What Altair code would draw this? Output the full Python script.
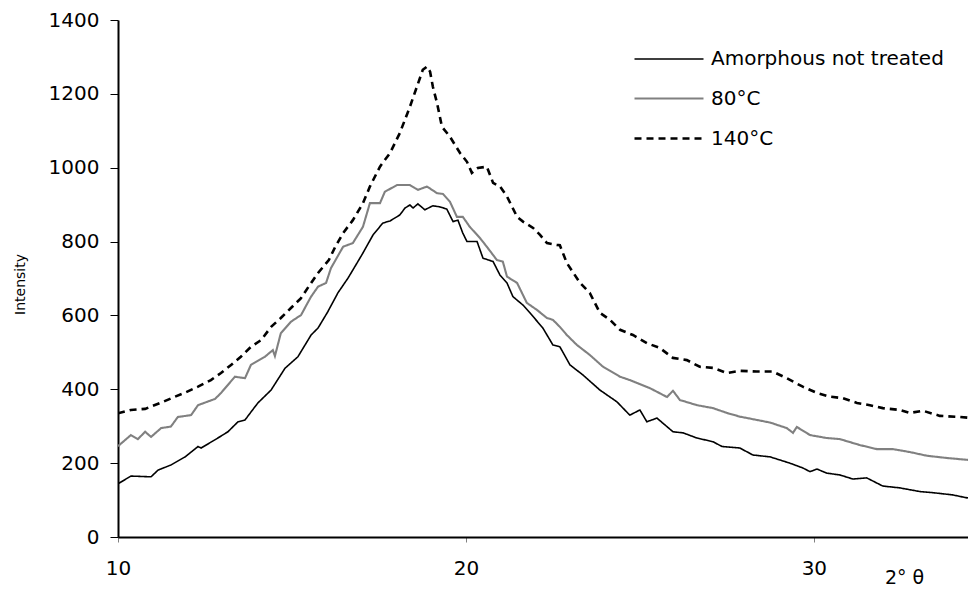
import altair as alt
import pandas as pd

series_names = ["Amorphous not treated", "80°C", "140°C"]

amorph_x = [10.00, 10.37, 10.95, 11.15, 11.52, 11.93, 12.30, 12.39, 12.87, 13.16, 13.45, 13.65,
            14.02, 14.40, 14.80, 15.17, 15.55, 15.75, 16.03, 16.32, 16.61, 16.75, 17.04, 17.33,
            17.61, 17.82, 18.10, 18.25, 18.39, 18.48, 18.62, 18.82, 19.05, 19.25, 19.45, 19.63,
            19.77, 19.91, 20.03, 20.32, 20.49, 20.78, 20.98, 21.18, 21.35, 21.64, 21.84, 22.21,
            22.50, 22.70, 22.99, 23.36, 23.85, 24.34, 24.71, 25.00, 25.20, 25.49, 25.95, 26.24,
            26.64, 27.10, 27.36, 27.87, 28.25, 28.74, 29.31, 29.68, 29.89, 30.09, 30.37, 30.75,
            31.12, 31.52, 31.98, 32.47, 33.05, 33.42, 33.99, 34.40, 34.66]
amorph_y = [144, 165, 163, 181, 195, 217, 245, 241, 268, 285, 312, 317,
            363, 398, 457, 488, 547, 566, 610, 661, 701, 723, 769, 818,
            850, 856, 872, 891, 899, 891, 902, 886, 897, 894, 888, 854,
            858, 823, 800, 800, 755, 746, 709, 688, 651, 628, 607, 566,
            520, 515, 466, 439, 398, 366, 330, 344, 312, 322, 285, 282,
            268, 258, 245, 241, 222, 217, 200, 187, 177, 184, 173, 168,
            157, 160, 138, 133, 123, 120, 114, 106, 109]

c80_x = [10.00, 10.37, 10.57, 10.78, 10.95, 11.24, 11.52, 11.72, 12.10, 12.30, 12.79, 12.96,
         13.36, 13.65, 13.82, 14.22, 14.45, 14.51, 14.68, 14.97, 15.26, 15.55, 15.75, 15.98,
         16.12, 16.47, 16.75, 17.04, 17.24, 17.53, 17.67, 18.02, 18.39, 18.62, 18.88, 19.17,
         19.34, 19.54, 19.74, 19.91, 20.11, 20.40, 20.60, 20.89, 21.06, 21.18, 21.47, 21.75,
         22.04, 22.33, 22.50, 22.70, 22.90, 23.19, 23.56, 23.94, 24.43, 24.71, 25.29, 25.78,
         25.95, 26.15, 26.64, 27.10, 27.50, 27.87, 28.36, 28.74, 29.22, 29.40, 29.51, 29.89,
         30.37, 30.75, 31.32, 31.81, 32.27, 32.76, 33.25, 33.82, 34.40, 34.66]
c80_y = [246, 276, 265, 285, 271, 295, 299, 325, 330, 357, 374, 390,
         434, 430, 466, 488, 506, 490, 552, 583, 601, 651, 678, 688,
         728, 786, 796, 840, 904, 904, 935, 953, 953, 940, 949, 931,
         929, 908, 867, 867, 840, 810, 786, 750, 746, 705, 688, 634,
         615, 593, 588, 569, 547, 520, 493, 461, 434, 425, 403, 379,
         396, 371, 357, 349, 336, 326, 317, 310, 295, 282, 298, 276,
         268, 265, 249, 238, 238, 230, 220, 214, 209, 207]

c140_x = [10.00, 10.37, 10.78, 11.24, 11.64, 11.93, 12.30, 12.67, 12.96, 13.25, 13.53, 13.82,
          14.11, 14.40, 14.68, 14.97, 15.26, 15.55, 15.75, 16.06, 16.24, 16.47, 16.75, 17.04,
          17.24, 17.53, 17.82, 18.10, 18.39, 18.59, 18.76, 18.88, 18.97, 19.05, 19.17, 19.31,
          19.54, 19.83, 20.03, 20.17, 20.34, 20.60, 20.78, 20.98, 21.18, 21.47, 21.64, 21.93,
          22.13, 22.33, 22.61, 22.70, 22.90, 23.28, 23.56, 23.85, 24.14, 24.43, 24.80, 25.20,
          25.57, 25.95, 26.35, 26.72, 27.10, 27.50, 27.87, 28.36, 28.82, 29.22, 29.68, 30.09,
          30.46, 30.83, 31.24, 31.61, 31.98, 32.47, 32.76, 33.13, 33.62, 34.20, 34.66]
c140_y = [335, 344, 347, 364, 380, 391, 407, 425, 444, 466, 488, 515,
          533, 569, 593, 620, 647, 688, 715, 750, 785, 823, 858, 904,
          949, 1003, 1040, 1094, 1165, 1219, 1265, 1274, 1260, 1219, 1175, 1111,
          1084, 1040, 1016, 986, 999, 1003, 959, 949, 922, 867, 854, 837,
          818, 796, 791, 790, 742, 688, 661, 607, 588, 561, 547, 525,
          512, 485, 479, 461, 458, 444, 450, 448, 448, 430, 407, 390,
          380, 376, 363, 357, 349, 344, 336, 342, 328, 325, 321]

x_domain = [10, 34.43]
y_domain = [0, 1400]
x_ticks = [10, 20, 30]
y_ticks = [0, 200, 400, 600, 800, 1000, 1200, 1400]

rows = []
for name, xs, ys in [(series_names[0], amorph_x, amorph_y),
                     (series_names[1], c80_x, c80_y),
                     (series_names[2], c140_x, c140_y)]:
    for a, b in zip(xs, ys):
        rows.append({"series": name, "theta": a, "intensity": b})
df = pd.DataFrame(rows)

FONT = "DejaVu Sans"

legend = alt.Legend(
    orient="none", legendX=564, legendY=28, title=None,
    symbolType="M-5.9,0H1", symbolSize=400, symbolStrokeWidth=1.5,
    labelFont=FONT, labelFontSize=20, labelColor="#000000", labelOffset=6,
    labelLimit=500, rowPadding=18, padding=0,
)

chart = alt.Chart(df).mark_line(clip=True).encode(
    x=alt.X("theta:Q",
            scale=alt.Scale(domain=x_domain, nice=False, zero=False),
            axis=alt.Axis(values=x_ticks, title="2° θ", grid=False, format="d",
                          domainColor="#000000", domainWidth=2,
                          tickColor="#808080", tickSize=5, tickWidth=1,
                          labelFont=FONT, labelFontSize=20, labelColor="#000000",
                          labelPadding=16, labelFlush=False,
                          titleFont=FONT, titleFontSize=19, titleFontWeight="normal",
                          titleColor="#000000", titleX=786, titleY=46,
                          titleAlign="center", titleBaseline="alphabetic")),
    y=alt.Y("intensity:Q",
            scale=alt.Scale(domain=y_domain, nice=False),
            axis=alt.Axis(values=y_ticks, title="Intensity", grid=False, format="d",
                          domainColor="#000000", domainWidth=2,
                          tickColor="#000000", tickSize=8, tickWidth=1,
                          labelFont=FONT, labelFontSize=20, labelColor="#000000",
                          labelPadding=11,
                          titleFont=FONT, titleFontSize=14, titleFontWeight="normal",
                          titleColor="#000000", titleX=-98, titleY=264,
                          titleAngle=270, titleAlign="center", titleBaseline="middle")),
    color=alt.Color("series:N",
                    scale=alt.Scale(domain=series_names, range=["#000000", "#808080", "#000000"]),
                    legend=legend),
    strokeDash=alt.StrokeDash("series:N",
                              scale=alt.Scale(domain=series_names, range=[[1, 0], [1, 0], [7, 5]]),
                              legend=legend),
    strokeWidth=alt.StrokeWidth("series:N",
                                scale=alt.Scale(domain=series_names, range=[1.6, 2.6, 0.9]),
                                legend=legend),
).properties(
    width=850, height=517,
    autosize=alt.AutoSizeParams(type="none"),
    padding={"left": 110, "top": 12, "right": 0, "bottom": 52},
).configure_view(strokeWidth=0)

chart.save("out.html", embed_options={"renderer": "svg", "actions": False})
